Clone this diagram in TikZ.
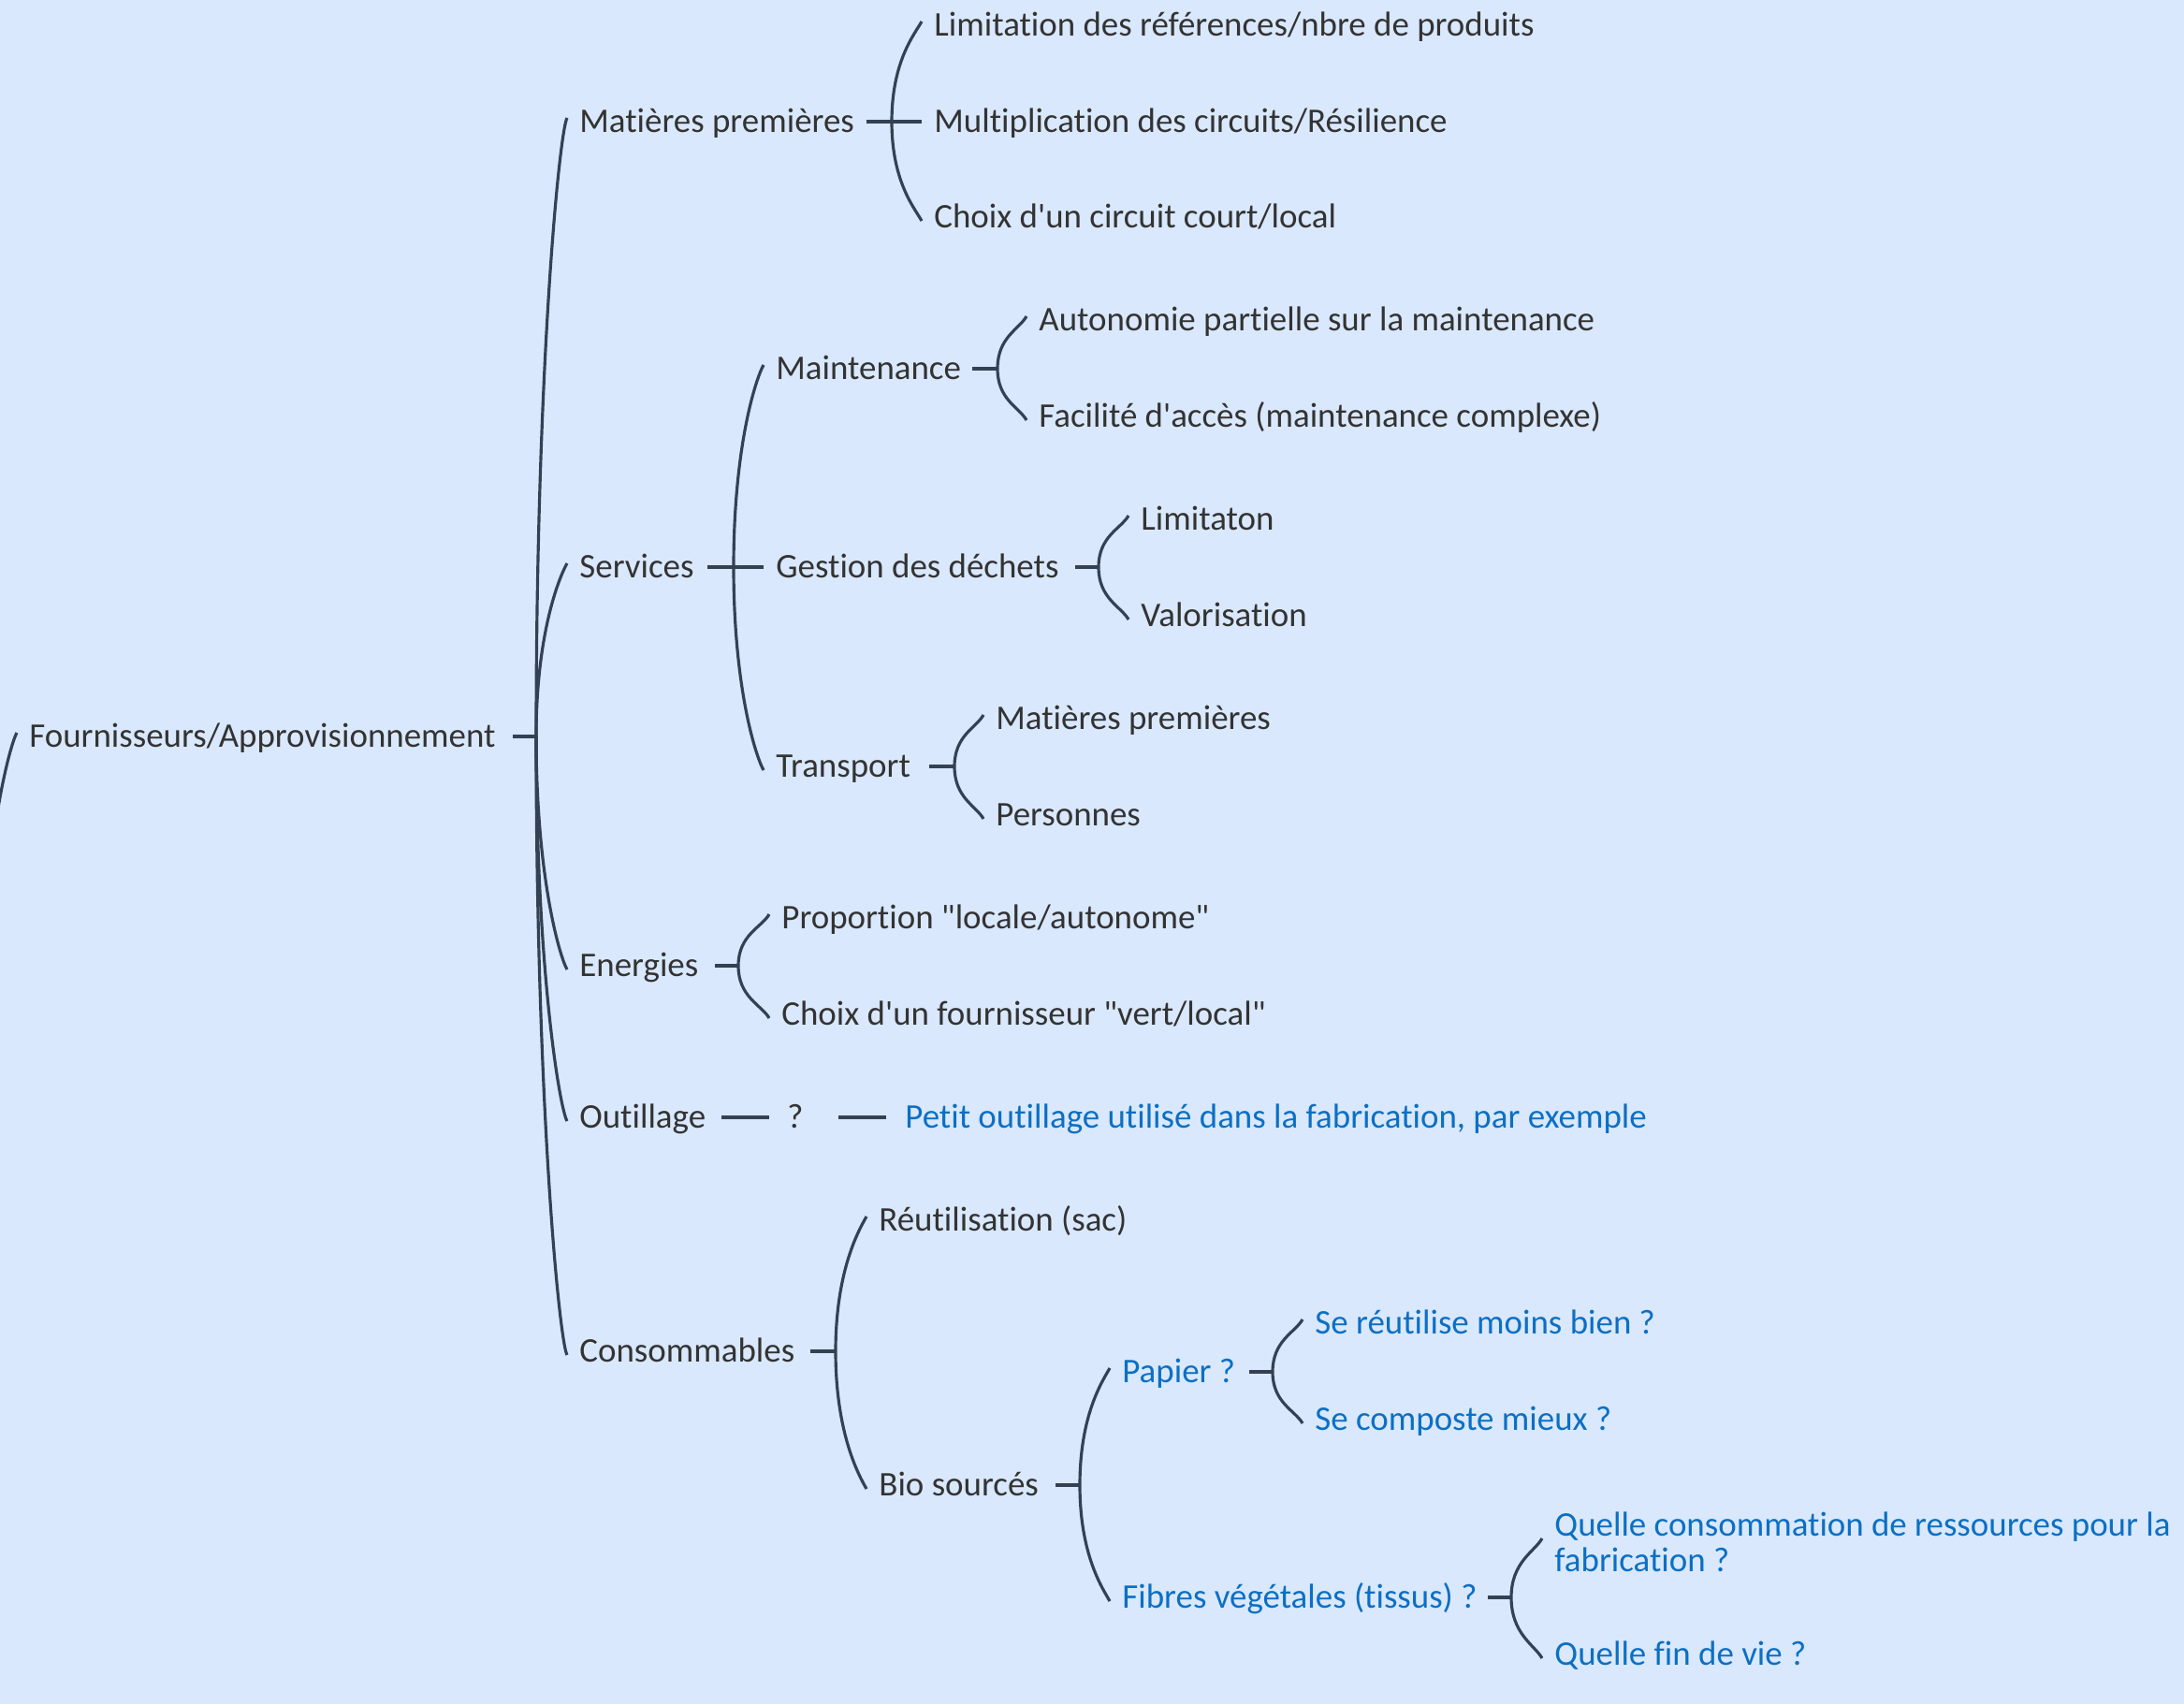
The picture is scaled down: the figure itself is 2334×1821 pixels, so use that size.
\documentclass[tikz,border=0pt]{standalone}
\usepackage{fontspec}
\setmainfont{Carlito}[Ligatures=NoCommon]
\usetikzlibrary{calc}
\definecolor{bgblue}{RGB}{217,232,252}
\definecolor{linec}{RGB}{52,64,84}
\definecolor{txtc}{RGB}{51,51,51}
\definecolor{qblue}{RGB}{12,111,196}
\begin{document}
\begin{tikzpicture}[x=0.01cm, y=-0.01cm, thick,
        topic/.style={anchor=west, inner sep=0pt, text=txtc, font=\fontsize{10.5}{10.9}\selectfont, text height=8.4pt, text depth=1.6pt},
        ask/.style={topic, text=qblue},
        askml/.style={anchor=west, inner sep=0pt, text=qblue, font=\fontsize{10.5}{10.9}\selectfont, align=left},
        stub/.style={draw=linec, line width=1.3pt},
        brup/.style={draw=linec, line width=0.9pt, to path={let \p1=(\tikztostart), \p2=($(\tikztotarget.west)+(-12,-4)$), \p3=($(\p1)!0.6!(\p2)$) in .. controls (\x1,\y3) and ($(\p2)+(-8,14)$) .. (\p2)}},
        brdn/.style={draw=linec, line width=0.9pt, to path={let \p1=(\tikztostart), \p2=($(\tikztotarget.west)+(-12,4)$), \p3=($(\p1)!0.6!(\p2)$) in .. controls (\x1,\y3) and ($(\p2)+(-8,-14)$) .. (\p2)}},
        brmid/.style={stub, to path={-- ($(\tikztotarget.west)+(-12,0)$)}}]

                        \useasboundingbox (0,0) rectangle (2334,1821);
                        \fill[bgblue] (0,0) rectangle (2334,1821);

                        \node[topic] at (30,787) (root) {Fournisseurs/Approvisionnement};
                        \coordinate (off) at (-20,1100);
                        \coordinate (br) at (573,787);

                        \node[topic] at (618,130) (mat) {Matières premières};
                        \node[topic] at (618,606) (serv) {Services};
                        \node[topic] at (618,1032) (ener) {Energies};
                        \node[topic] at (618,1194) (outil) {Outillage};
                        \node[topic] at (618,1444) (cons) {Consommables};

                        \coordinate (bmat) at (953,130);
                        \node[topic] at (997,27) (lim) {Limitation des références/nbre de produits};
                        \node[topic] at (997,130) (mul) {Multiplication des circuits/Résilience};
                        \node[topic] at (997,232) (court) {Choix d\textquotesingle un circuit court/local};

                        \coordinate (bserv) at (784,606);
                        \node[topic] at (828,394) (maint) {Maintenance};
                        \node[topic] at (828,606) (dech) {Gestion des déchets};
                        \node[topic] at (828,819) (transp) {Transport};

                        \coordinate (bmaint) at (1066,394);
                        \node[topic] at (1109,342) (auto) {Autonomie partielle sur la maintenance};
                        \node[topic] at (1109,445) (acces) {Facilité d\textquotesingle accès (maintenance complexe)};

                        \coordinate (bdech) at (1174,606);
                        \node[topic] at (1218,555) (limi) {Limitaton};
                        \node[topic] at (1218,658) (valo) {Valorisation};

                        \coordinate (btransp) at (1020,819);
                        \node[topic] at (1063,768) (tmat) {Matières premières};
                        \node[topic] at (1063,871) (pers) {Personnes};

                        \coordinate (bener) at (789,1032);
                        \node[topic] at (834,981) (prop) {Proportion \textquotedbl locale/autonome\textquotedbl};
                        \node[topic] at (834,1084) (four) {Choix d\textquotesingle un fournisseur \textquotedbl vert/local\textquotedbl};

                        \node[topic] at (840,1194) (q) {?};
                        \node[ask] at (966,1194) (petit) {Petit outillage utilisé dans la fabrication, par exemple};

                        \coordinate (bcons) at (893,1444);
                        \node[topic] at (938,1304) (reut) {Réutilisation (sac)};
                        \node[topic] at (938,1587) (bio) {Bio sourcés};

                        \coordinate (bbio) at (1154,1587);
                        \node[ask] at (1198,1466) (pap) {Papier ?};
                        \node[ask] at (1198,1707) (fib) {Fibres végétales (tissus) ?};

                        \coordinate (bpap) at (1360,1466);
                        \node[ask] at (1404,1414) (sereu) {Se réutilise moins bien ?};
                        \node[ask] at (1404,1517) (secomp) {Se composte mieux ?};

                        \coordinate (bfib) at (1615,1707);
                        \node[askml] at (1660,1648) (qcons) {Quelle consommation de ressources pour la\\fabrication ?};
                        \node[ask] at (1660,1768) (fin) {Quelle fin de vie ?};


                        \path (off) edge[brup] (root);

                        \draw[stub] (br) -- ++(-25,0);
                        \path (br) edge[brup] (mat) edge[brup] (serv) edge[brdn] (ener) edge[brdn] (outil) edge[brdn] (cons);

                        \draw[stub] (bmat) -- ++(-27,0);
                        \path (bmat) edge[brup] (lim) edge[brmid] (mul) edge[brdn] (court);

                        \draw[stub] (bserv) -- ++(-28,0);
                        \path (bserv) edge[brup] (maint) edge[brmid] (dech) edge[brdn] (transp);

                        \draw[stub] (bmaint) -- ++(-27,0);
                        \path (bmaint) edge[brup] (auto) edge[brdn] (acces);

                        \draw[stub] (bdech) -- ++(-25,0);
                        \path (bdech) edge[brup] (limi) edge[brdn] (valo);

                        \draw[stub] (btransp) -- ++(-27,0);
                        \path (btransp) edge[brup] (tmat) edge[brdn] (pers);

                        \draw[stub] (bener) -- ++(-25,0);
                        \path (bener) edge[brup] (prop) edge[brdn] (four);

                        \draw[stub] ($(q.west)+(-69,0)$) -- ($(q.west)+(-18,0)$);
                        \draw[stub] ($(petit.west)+(-70,0)$) -- ($(petit.west)+(-19,0)$);

                        \draw[stub] (bcons) -- ++(-27,0);
                        \path (bcons) edge[brup] (reut) edge[brdn] (bio);

                        \draw[stub] (bbio) -- ++(-26,0);
                        \path (bbio) edge[brup] (pap) edge[brdn] (fib);

                        \draw[stub] (bpap) -- ++(-25,0);
                        \path (bpap) edge[brup] (sereu) edge[brdn] (secomp);

                        \draw[stub] (bfib) -- ++(-25,0);
                        \path (bfib) edge[brup] (qcons) edge[brdn] (fin);

                    \end{tikzpicture}
\end{document}
